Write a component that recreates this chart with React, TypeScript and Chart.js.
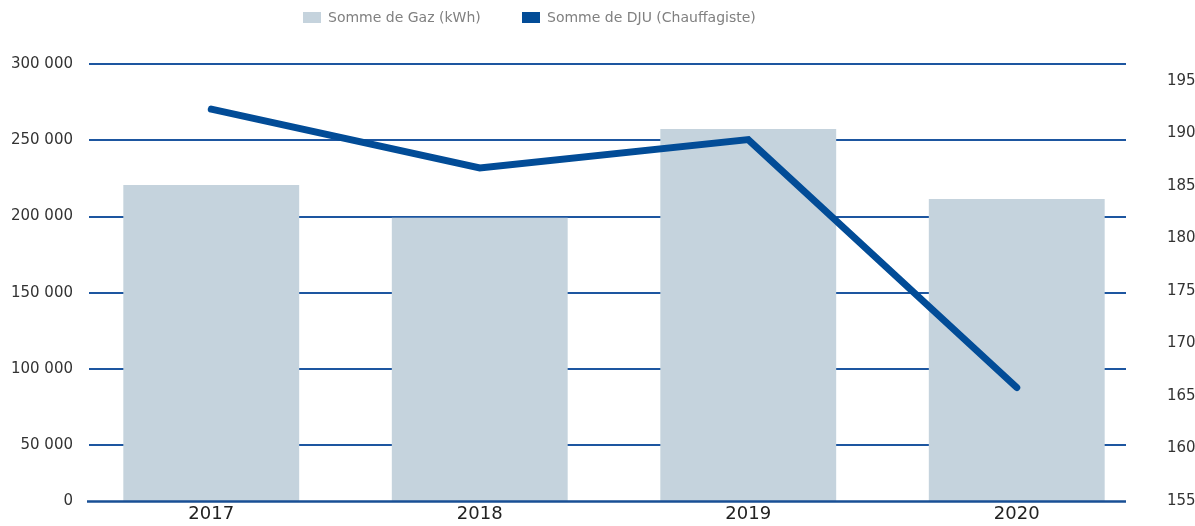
import React, { useEffect, useRef } from "react";
import { Chart, registerables } from "chart.js";

Chart.register(...registerables);

const categories = ["2017", "2018", "2019", "2020"];
const gazValues = [220700, 199300, 257400, 211500];
const djuValues = [192.3, 186.7, 189.4, 165.8];
const leftTickValues = [0, 50000, 100000, 150000, 200000, 250000, 300000];
const leftTickLabels = ["0", "50 000", "100 000", "150 000", "200 000", "250 000", "300 000"];
const rightTickValues = [155, 160, 165, 170, 175, 180, 185, 190, 195];
const rightTickLabels = ["155", "160", "165", "170", "175", "180", "185", "190", "195"];
const seriesNames = ["Somme de Gaz (kWh)", "Somme de DJU (Chauffagiste)"];

const LEFT_MIN = 13630;
const LEFT_MAX = 300000;
const RIGHT_MIN = 155;
const RIGHT_MAX = 196.6;

const BAR_COLOR = "#c5d3dd";
const LINE_COLOR = "#024c97";
const GRID_COLOR = "#1d56a0";
const FONT = "'DejaVu Sans', sans-serif";

const gridPlugin = {
  id: "customGrid",
  beforeDatasetsDraw(chart: any) {
    const { ctx, chartArea } = chart;
    const y = chart.scales.y;
    const x0 = chartArea.left + 12;
    const x1 = chartArea.right - 25;
    ctx.save();
    ctx.strokeStyle = GRID_COLOR;
    ctx.lineWidth = 2;
    y.ticks.forEach((t: any, i: number) => {
      if (i === 0) return;
      const py = Math.round(y.getPixelForValue(t.value));
      ctx.beginPath();
      ctx.moveTo(x0, py);
      ctx.lineTo(x1, py);
      ctx.stroke();
    });
    ctx.restore();
  },
  afterDatasetsDraw(chart: any) {
    const { ctx, chartArea } = chart;
    const x0 = chartArea.left + 10;
    const x1 = chartArea.right - 25;
    ctx.save();
    ctx.strokeStyle = "#184f95";
    ctx.lineWidth = 2.5;
    ctx.beginPath();
    ctx.moveTo(x0, chartArea.bottom + 0.5);
    ctx.lineTo(x1, chartArea.bottom + 0.5);
    ctx.stroke();
    ctx.restore();
  },
};

const legendPlugin = {
  id: "customLegend",
  afterDraw(chart: any) {
    const { ctx } = chart;
    const colors = [BAR_COLOR, LINE_COLOR];
    const starts = [303, 522];
    ctx.save();
    ctx.font = "14px " + FONT;
    ctx.textBaseline = "middle";
    ctx.textAlign = "left";
    seriesNames.forEach((name, i) => {
      ctx.fillStyle = colors[i];
      ctx.fillRect(starts[i], 12, 18, 11);
      ctx.fillStyle = "#808080";
      ctx.fillText(name, starts[i] + 25, 18);
    });
    ctx.restore();
  },
};

export default function App() {
  const ref = useRef<HTMLCanvasElement | null>(null);
  useEffect(() => {
    if (!ref.current) return;
    const chart = new Chart(ref.current, {
      type: "bar",
      data: {
        labels: categories,
        datasets: [
          {
            type: "line",
            label: seriesNames[1],
            data: djuValues,
            yAxisID: "y1",
            borderColor: LINE_COLOR,
            backgroundColor: LINE_COLOR,
            borderWidth: 7,
            pointRadius: 0,
            borderCapStyle: "round",
            borderJoinStyle: "miter",
            tension: 0,
            order: 0,
          } as any,
          {
            type: "bar",
            label: seriesNames[0],
            data: gazValues,
            yAxisID: "y",
            backgroundColor: BAR_COLOR,
            borderWidth: 0,
            barPercentage: 0.655,
            categoryPercentage: 1,
            order: 1,
          },
        ],
      },
      options: {
        animation: false,
        responsive: true,
        maintainAspectRatio: false,
        layout: { padding: { top: 64, left: 0, right: 0, bottom: 0 } },
        plugins: {
          legend: { display: false },
          tooltip: { enabled: false },
        },
        scales: {
          x: {
            grid: { display: false, drawTicks: false },
            border: { display: false },
            ticks: { font: { family: FONT, size: 18 }, color: "#222222", padding: 3 },
            afterFit: (s: any) => { s.height = 25; },
          },
          y: {
            position: "left",
            min: LEFT_MIN,
            max: LEFT_MAX,
            grid: { display: false, drawTicks: false },
            border: { display: false },
            afterBuildTicks: (s: any) => {
              s.ticks = leftTickValues.map((v) => ({ value: Math.max(v, LEFT_MIN) }));
            },
            ticks: {
              font: { family: FONT, size: 15 },
              color: "#333333",
              padding: 4,
              callback: (_v: any, i: number) => leftTickLabels[i],
            },
            afterFit: (s: any) => { s.width = 77; },
          },
          y1: {
            position: "right",
            min: RIGHT_MIN,
            max: RIGHT_MAX,
            grid: { display: false, drawTicks: false },
            border: { display: false },
            afterBuildTicks: (s: any) => {
              s.ticks = rightTickValues.map((v) => ({ value: v }));
            },
            ticks: {
              font: { family: FONT, size: 15 },
              color: "#333333",
              padding: 16,
              callback: (_v: any, i: number) => rightTickLabels[i],
            },
            afterFit: (s: any) => { s.width = 44; },
          },
        },
      },
      plugins: [gridPlugin, legendPlugin],
    });
    return () => chart.destroy();
  }, []);
  return (
    <div style={{ position: "fixed", left: 0, top: 0, width: 1195, height: 526, background: "#ffffff" }}>
      <canvas ref={ref} />
    </div>
  );
}
